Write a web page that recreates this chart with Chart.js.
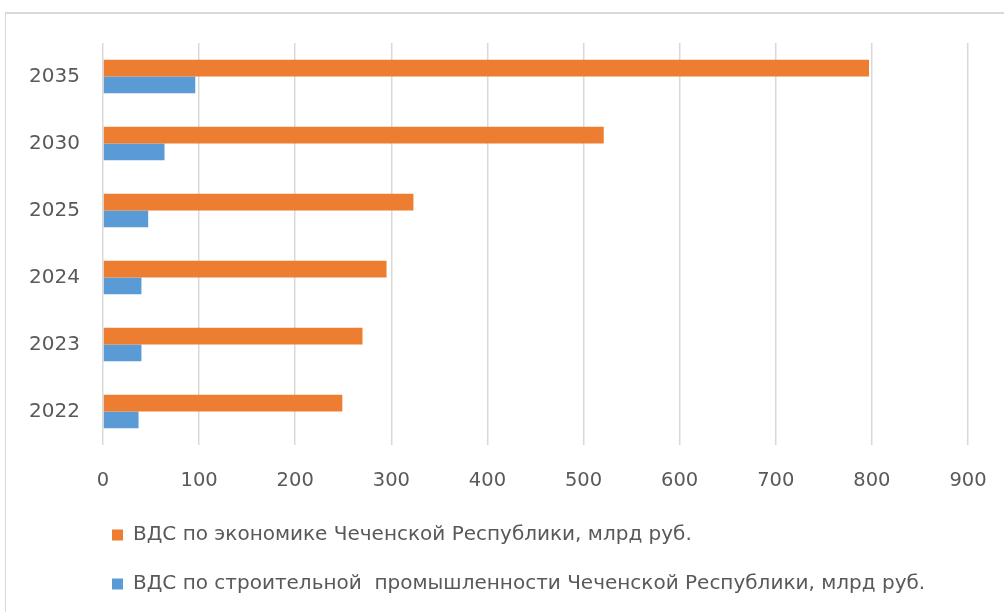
<!DOCTYPE html>
<html>
<head>
<meta charset="utf-8">
<script src="https://cdn.jsdelivr.net/npm/chart.js@4/dist/chart.umd.min.js"></script>
<style>
  html, body { margin: 0; padding: 0; background: #fff; overflow: hidden; }
  #wrap { position: relative; width: 1004px; height: 612px; overflow: hidden; }
  #frame { position: absolute; left: 5px; top: 12px; right: 0; bottom: 0;
           border-top: 2px solid #d9d9d9; border-left: 1px solid #d9d9d9; }
  #mycanvas { position: absolute; left: 0; top: 0; }
</style>
</head>
<body>
<div id="wrap">
  <div id="frame"></div>
  <canvas id="mycanvas" width="1004" height="612"></canvas>
</div>
<script>
var years = ['2022', '2023', '2024', '2025', '2030', '2035'];
var economy = [249, 270, 295, 323, 521, 797];
var construction = [37, 40, 40, 47, 64, 96];
var economyLabel = 'ВДС по экономике Чеченской Республики, млрд руб.';
var constructionLabel = 'ВДС по строительной  промышленности Чеченской Республики, млрд руб.';
var xMax = 900;
var xStep = 100;

var textColor = '#595959';
var gridColor = '#d9d9d9';
var fontFamily = '"DejaVu Sans", "Open Sans", sans-serif';

var chartdata = {
  labels: years,
  datasets: [
    {
      label: economyLabel,
      backgroundColor: '#ed7d31',
      data: economy
    },
    {
      label: constructionLabel,
      backgroundColor: '#5b9bd5',
      data: construction
    }
  ]
};

var ctx = document.getElementById('mycanvas');

var barGraph = new Chart(ctx, {
  type: 'bar',
  data: chartdata,
  options: {
    indexAxis: 'y',
    responsive: false,
    animation: false,
    datasets: {
      bar: { categoryPercentage: 0.5, barPercentage: 1.0 }
    },
    layout: {
      // left padding also sets where the legend rows start
      padding: { left: 83, right: 36, top: 43, bottom: 8 }
    },
    scales: {
      x: {
        min: 0,
        max: xMax,
        ticks: {
          stepSize: xStep,
          color: textColor,
          padding: 0,
          font: { family: fontFamily, size: 19.5 }
        },
        // invisible tick marks give the gap under the plot
        // (ticks.padding would also widen the right margin)
        grid: { color: gridColor, lineWidth: 1.5, drawTicks: true, tickLength: 24, tickColor: 'rgba(0,0,0,0)' },
        border: { display: false },
        afterFit: function(scale) { scale.height = 51; }
      },
      y: {
        reverse: true,
        ticks: {
          // mirrored labels are not clipped to the narrow axis box,
          // negative padding pulls them back out to the left
          mirror: true,
          padding: -74,
          color: textColor,
          font: { family: fontFamily, size: 20 }
        },
        grid: { display: false, drawTicks: false },
        border: { display: false },
        afterFit: function(scale) { scale.width = 20; }
      }
    },
    plugins: {
      legend: {
        position: 'bottom',
        align: 'start',
        labels: {
          boxWidth: 11,
          boxHeight: 11,
          padding: 29,
          color: textColor,
          font: { family: fontFamily, size: 20 }
        }
      },
      tooltip: { enabled: false }
    }
  }
});
</script>
</body>
</html>
